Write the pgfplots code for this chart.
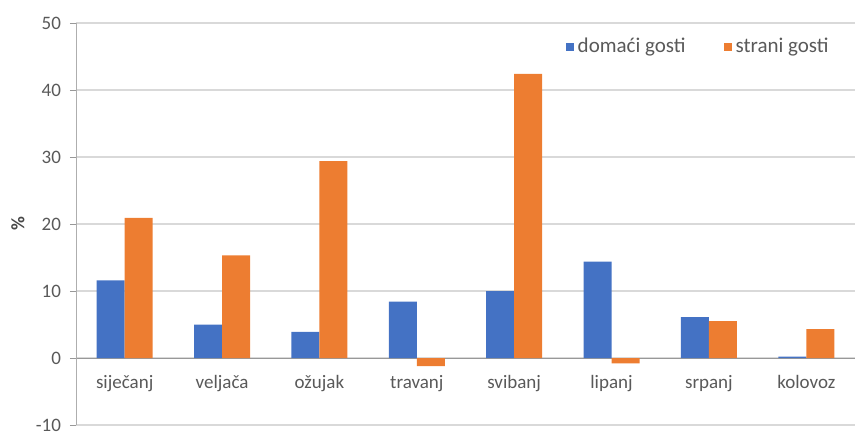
\documentclass[border=0pt]{standalone}
\usepackage{pgfplots}
\pgfplotsset{compat=1.18}
\usepackage{fontspec}
\setmainfont{Carlito}
\definecolor{cblue}{HTML}{4472C4}
\definecolor{corange}{HTML}{ED7D31}
\definecolor{txt}{HTML}{595959}
\definecolor{grid}{HTML}{D9D9D9}
\begin{document}
\begin{tikzpicture}
\path[use as bounding box] (-38pt,-5pt) rectangle (389.5pt,212.5pt);
\begin{axis}[
  scale only axis,
  width=389.5pt, height=201pt,
  ybar=0pt, bar width=14pt,
  xmin=-0.5, xmax=7.5,
  ymin=-10, ymax=50,
  ytick={-10,0,10,20,30,40,50},
  xtick=data,
  xticklabels={siječanj,veljača,ožujak,travanj,svibanj,lipanj,srpanj,kolovoz},
  axis x line=middle,
  axis y line=left,
  axis line style={-, draw=grid!80!black},
  x axis line style={draw=grid!70!black},
  ymajorgrids,
  major grid style={draw=grid, line width=0.6pt},
  major x tick style={draw=none},
  major y tick style={draw=grid!70!black},
  tick align=outside,
  major tick length=3pt,
  tick label style={font=\fontsize{9.5}{11}\selectfont, text=txt},
  /pgf/number format/assume math mode=true,
  yticklabel style={xshift=-1pt},
  xticklabel style={yshift=-2pt},
  ylabel={\textbf{\%}},
  every axis y label/.style={at={(axis description cs:0,0.5)}, xshift=-29pt, rotate=90, anchor=center, font=\fontsize{9.5}{11}\selectfont, text=txt!80!black},
  legend style={at={(0.80,0.94)}, anchor=center, legend columns=2, draw=none, fill=none,
    font=\fontsize{10.5}{12}\selectfont, text=txt,
    /tikz/every even column/.append style={column sep=17pt}},
  legend image code/.code={\fill[#1] (0pt,-2pt) rectangle (4pt,2pt);},
  legend cell align=left,
]
\addplot[fill=cblue, draw=none] coordinates {(0,11.6) (1,5.0) (2,3.9) (3,8.4) (4,10.0) (5,14.4) (6,6.1) (7,0.2)};
\addplot[fill=corange, draw=none] coordinates {(0,20.9) (1,15.3) (2,29.4) (3,-1.2) (4,42.4) (5,-0.8) (6,5.5) (7,4.3)};
\legend{domaći gosti, strani gosti}
\end{axis}
\end{tikzpicture}
\end{document}
